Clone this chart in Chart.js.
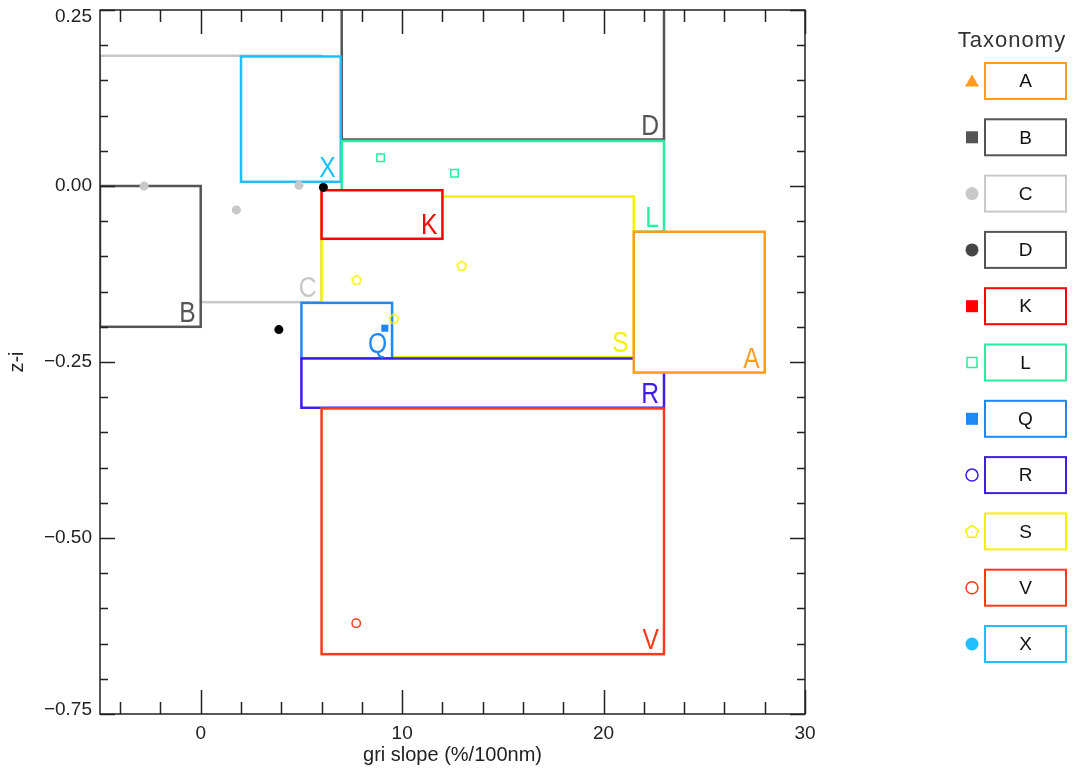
<!DOCTYPE html>
<html>
<head>
<meta charset="utf-8">
<script src="https://cdn.jsdelivr.net/npm/chart.js@4.4.0/dist/chart.umd.min.js"></script>
<style>
html,body{margin:0;padding:0;background:#fff;}
canvas{display:block;}
</style>
</head>
<body>
<canvas id="c" width="1083" height="770"></canvas>
<script>
// ---------- data ----------
const taxonomyClasses = ['A','B','C','D','K','L','Q','R','S','V','X'];
const boxXMin = [21.5, -5.0, -5.0,  7.0,  6.0,  7.0,  5.0,  5.0,  6.0,  6.0, 2.0];
const boxXMax = [28.0,  0.0,  6.0, 23.0, 12.0, 23.0,  9.5, 23.0, 21.5, 23.0, 6.95];
const boxYMin = [-0.265, -0.200, -0.165, 0.066, -0.075, -0.065, -0.245, -0.315, -0.243, -0.665, 0.006];
const boxYMax = [-0.065,  0.000,  0.185, 0.300, -0.006,  0.064, -0.166, -0.245, -0.015, -0.316, 0.184];

const pointsCx = [-2.81, 1.77, 4.88];
const pointsCy = [0.000, -0.034, 0.001];
const pointsDx = [6.09, 3.88];
const pointsDy = [-0.002, -0.204];
const pointsLx = [8.93, 12.60];
const pointsLy = [0.040, 0.018];
const pointsQx = [9.14];
const pointsQy = [-0.202];
const pointsSx = [7.74, 12.95, 9.59];
const pointsSy = [-0.133, -0.113, -0.188];
const pointsVx = [7.72];
const pointsVy = [-0.621];

const xTickValues = [0, 10, 20, 30];
const yTickValues = [-0.75, -0.5, -0.25, 0, 0.25];

// ---------- styles ----------
const classColors = {A:'#ff9b1e', B:'#555555', C:'#c8c8c8', D:'#555555', K:'#ff0000', L:'#28eca0',
                     Q:'#1e88f5', R:'#3c1ee6', S:'#f2f200', V:'#ff3a1a', X:'#1ebeff'};
const legendSymbols = {
  A:{shape:'triangle', fill:true,  color:'#ff9b1e'},
  B:{shape:'square',   fill:true,  color:'#555555'},
  C:{shape:'circle',   fill:true,  color:'#c8c8c8'},
  D:{shape:'circle',   fill:true,  color:'#444444'},
  K:{shape:'square',   fill:true,  color:'#ff0000'},
  L:{shape:'square',   fill:false, color:'#28eca0'},
  Q:{shape:'square',   fill:true,  color:'#1e88f5'},
  R:{shape:'circle',   fill:false, color:'#3c1ee6'},
  S:{shape:'pentagon', fill:false, color:'#f2f200'},
  V:{shape:'circle',   fill:false, color:'#ff3a1a'},
  X:{shape:'circle',   fill:true,  color:'#1ebeff'}
};
const drawOrder = ['C','D','X','L','S','K','Q','R','V','A','B'];

const zip = (xs, ys) => xs.map((x, i) => ({x: x, y: ys[i]}));
const fmtY = v => Number(v).toFixed(2).replace('-', '\u2212');

function pentagonPath(ctx, cx, cy, r) {
  ctx.beginPath();
  for (let k = 0; k < 5; k++) {
    const a = -Math.PI / 2 + k * 2 * Math.PI / 5;
    const px = cx + r * Math.cos(a), py = cy + r * Math.sin(a);
    if (k === 0) ctx.moveTo(px, py); else ctx.lineTo(px, py);
  }
  ctx.closePath();
}
const pentImg = document.createElement('canvas');
pentImg.width = 14; pentImg.height = 14;
(function(){
  const g = pentImg.getContext('2d');
  g.strokeStyle = classColors.S; g.lineWidth = 1.5;
  pentagonPath(g, 7, 7.5, 4.8); g.stroke();
})();

// ---------- plugins ----------
const boxesPlugin = {
  id: 'boxes',
  beforeDatasetsDraw(chart) {
    const ctx = chart.ctx, xs = chart.scales.x, ys = chart.scales.y, a = chart.chartArea;
    ctx.save();
    ctx.beginPath(); ctx.rect(a.left, a.top, a.right - a.left, a.bottom - a.top); ctx.clip();
    const rects = {};
    drawOrder.forEach(k => {
      const i = taxonomyClasses.indexOf(k);
      const x0 = xs.getPixelForValue(boxXMin[i]), x1 = xs.getPixelForValue(boxXMax[i]);
      const y0 = ys.getPixelForValue(boxYMax[i]), y1 = ys.getPixelForValue(boxYMin[i]);
      rects[k] = {x0, x1, y0, y1};
      ctx.fillStyle = '#ffffff';
      ctx.fillRect(x0, y0, x1 - x0, y1 - y0);
      ctx.strokeStyle = classColors[k];
      ctx.lineWidth = 2.5;
      ctx.strokeRect(x0, y0, x1 - x0, y1 - y0);
    });
    ctx.font = '29px "Liberation Sans", sans-serif';
    ctx.textAlign = 'right';
    ctx.textBaseline = 'alphabetic';
    drawOrder.forEach(k => {
      const r = rects[k];
      ctx.save();
      ctx.translate(r.x1 - 5, r.y1 - 5);
      ctx.scale(0.85, 1);
      ctx.fillStyle = classColors[k];
      ctx.fillText(k, 0, 0);
      ctx.restore();
    });
    ctx.restore();
  }
};

const framePlugin = {
  id: 'frame',
  afterDraw(chart) {
    const ctx = chart.ctx, xs = chart.scales.x, ys = chart.scales.y, a = chart.chartArea;
    ctx.save();
    ctx.strokeStyle = '#222';
    ctx.lineWidth = 1.5;
    ctx.strokeRect(a.left, a.top, a.right - a.left, a.bottom - a.top);
    ctx.beginPath();
    for (let k = -2; k <= 15; k++) {
      const v = k * 2;
      const px = Math.round(xs.getPixelForValue(v)) + 0.5;
      const len = (v % 10 === 0) ? 24 : 12;
      ctx.moveTo(px, a.bottom); ctx.lineTo(px, a.bottom - len);
      ctx.moveTo(px, a.top); ctx.lineTo(px, a.top + len);
    }
    for (let k = -15; k <= 5; k++) {
      const v = k * 0.05;
      const py = Math.round(ys.getPixelForValue(v)) + 0.5;
      const len = (k % 5 === 0) ? 15 : 8;
      ctx.moveTo(a.left, py); ctx.lineTo(a.left + len, py);
      ctx.moveTo(a.right, py); ctx.lineTo(a.right - len, py);
    }
    ctx.stroke();

    // y tick labels (kept inside the frame's vertical extent)
    ctx.fillStyle = '#222';
    ctx.font = '19px "Liberation Sans", sans-serif';
    ctx.textAlign = 'right';
    ctx.textBaseline = 'middle';
    yTickValues.forEach(v => {
      const py = Math.max(a.top + 6.5, Math.min(a.bottom - 4, ys.getPixelForValue(v)));
      ctx.fillText(fmtY(v), a.left - 8, py);
    });

    // legend
    ctx.fillStyle = '#333';
    ctx.font = '22px "Liberation Sans", sans-serif';
    ctx.letterSpacing = '1px';
    ctx.textAlign = 'center';
    ctx.textBaseline = 'alphabetic';
    ctx.fillText('Taxonomy', 1012, 47);
    ctx.letterSpacing = '0px';
    taxonomyClasses.forEach((k, i) => {
      const top = 63 + i * 56.3;
      const cy = top + 18;
      ctx.strokeStyle = classColors[k];
      ctx.lineWidth = 2;
      ctx.strokeRect(985, top, 81, 36);
      ctx.fillStyle = '#111';
      ctx.font = '19px "Liberation Sans", sans-serif';
      ctx.textAlign = 'center';
      ctx.textBaseline = 'middle';
      ctx.fillText(k, 1025.5, cy + 1);
      const s = legendSymbols[k], cx = 972;
      ctx.fillStyle = s.color; ctx.strokeStyle = s.color; ctx.lineWidth = 1.5;
      ctx.beginPath();
      if (s.shape === 'triangle') {
        ctx.moveTo(cx, cy - 6.5); ctx.lineTo(cx + 7, cy + 5.5); ctx.lineTo(cx - 7, cy + 5.5); ctx.closePath();
      } else if (s.shape === 'square') {
        if (s.fill) ctx.rect(cx - 6, cy - 6, 12, 12); else ctx.rect(cx - 5, cy - 5, 10, 10);
      } else if (s.shape === 'circle') {
        ctx.arc(cx, cy, s.fill ? 6.5 : 6, 0, Math.PI * 2);
      } else if (s.shape === 'pentagon') {
        pentagonPath(ctx, cx, cy + 0.5, 6.5);
      }
      if (s.fill) ctx.fill(); else ctx.stroke();
    });
    ctx.restore();
  }
};

// ---------- chart ----------
const tickFont = {family: '"Liberation Sans", sans-serif', size: 19};
const titleFont = {family: '"Liberation Sans", sans-serif', size: 20};
new Chart(document.getElementById('c'), {
  type: 'scatter',
  data: {
    datasets: [
      {label: 'C', data: zip(pointsCx, pointsCy), pointStyle: 'circle', pointRadius: 4.5,
       backgroundColor: '#c8c8c8', borderColor: '#c8c8c8', borderWidth: 0},
      {label: 'D', data: zip(pointsDx, pointsDy), pointStyle: 'circle', pointRadius: 4.5,
       backgroundColor: '#000000', borderColor: '#000000', borderWidth: 0},
      {label: 'L', data: zip(pointsLx, pointsLy), pointStyle: 'rect', pointRadius: 5.3,
       backgroundColor: 'rgba(0,0,0,0)', borderColor: classColors.L, borderWidth: 1.5},
      {label: 'Q', data: zip(pointsQx, pointsQy), pointStyle: 'rect', pointRadius: 5,
       backgroundColor: classColors.Q, borderColor: classColors.Q, borderWidth: 0},
      {label: 'S', data: zip(pointsSx, pointsSy), pointStyle: pentImg, pointRadius: 5},
      {label: 'V', data: zip(pointsVx, pointsVy), pointStyle: 'circle', pointRadius: 4.2,
       backgroundColor: 'rgba(0,0,0,0)', borderColor: classColors.V, borderWidth: 1.5}
    ]
  },
  options: {
    responsive: false,
    devicePixelRatio: 1,
    animation: false,
    events: [],
    layout: {padding: {left: 0, right: 278, top: 10, bottom: 0}},
    plugins: {legend: {display: false}, tooltip: {enabled: false}},
    scales: {
      x: {
        type: 'linear', min: -5, max: 30,
        afterBuildTicks: s => { s.ticks = xTickValues.map(v => ({value: v})); },
        afterFit: s => { s.height = 56; s.paddingLeft = 0; s.paddingRight = 0; },
        grid: {display: false, drawTicks: false}, border: {display: false},
        ticks: {font: tickFont, color: '#222', padding: 8, maxRotation: 0,
                callback: v => String(v)},
        title: {display: true, text: 'gri slope (%/100nm)', color: '#222',
                font: titleFont, padding: {top: 0, bottom: 3}}
      },
      y: {
        type: 'linear', min: -0.75, max: 0.25,
        afterBuildTicks: s => { s.ticks = yTickValues.map(v => ({value: v})); },
        afterFit: s => { s.width = 100; s.paddingTop = 0; s.paddingBottom = 0; },
        grid: {display: false, drawTicks: false}, border: {display: false},
        ticks: {font: tickFont, color: 'rgba(0,0,0,0)', padding: 8, callback: fmtY},
        title: {display: true, text: 'z-i', color: '#222',
                font: titleFont, padding: {top: 5, bottom: 0}}
      }
    }
  },
  plugins: [boxesPlugin, framePlugin]
});
</script>
</body>
</html>
